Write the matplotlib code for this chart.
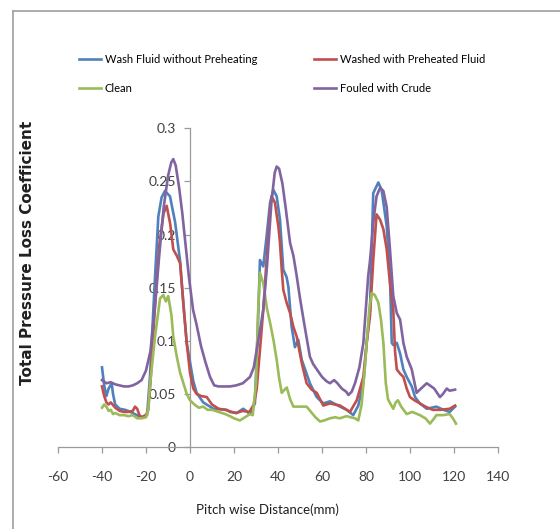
import matplotlib
matplotlib.use("Agg")
import matplotlib.pyplot as plt
from matplotlib.lines import Line2D

plt.rcParams['font.family'] = ['Lato', 'DejaVu Sans']

# ---- data ----
blue_x = [-40, -39, -38, -37, -35.6, -35, -34, -32, -29.5, -27, -24.2, -22, -20, -19.5, -18.2, -15.9, -14.4,
          -12.9, -11.4, -9.1, -6.8, -4.5, -3, -1.5, 1.5, 3, 6, 10.6, 16.7, 18.2, 21.2, 24.2, 27.3, 29.5, 31.1,
          31.8, 33.3, 34.8, 36.4, 37.9, 39.4, 40.9, 42.4, 43.9, 44.7, 46.2, 47.7, 49.2, 50.8, 54.5, 57.6, 60.6,
          63.6, 68.2, 71.2, 74.2, 76.5, 78.8, 80.3, 81.8, 83.3, 85.6, 87.1, 89.4, 90.9, 91.7, 92.4, 94, 95.5,
          97, 98.5, 100.8, 102.3, 104.5, 107.6, 112, 115.2, 118, 120.5]
blue_y = [0.075, 0.058, 0.048, 0.055, 0.060, 0.050, 0.040, 0.036, 0.035, 0.033, 0.030, 0.028, 0.030, 0.030,
          0.066, 0.160, 0.217, 0.235, 0.241, 0.236, 0.212, 0.175, 0.134, 0.098, 0.062, 0.051, 0.042, 0.036,
          0.035, 0.033, 0.032, 0.036, 0.031, 0.041, 0.129, 0.176, 0.170, 0.198, 0.230, 0.242, 0.236, 0.214,
          0.167, 0.160, 0.151, 0.113, 0.094, 0.101, 0.082, 0.060, 0.047, 0.041, 0.043, 0.038, 0.035, 0.030,
          0.039, 0.060, 0.098, 0.129, 0.239, 0.249, 0.242, 0.208, 0.161, 0.098, 0.096, 0.098, 0.088, 0.073,
          0.066, 0.057, 0.047, 0.041, 0.036, 0.038, 0.035, 0.033, 0.038]

red_x = [-40, -39, -38, -37, -36, -34, -32, -30, -28, -26, -25, -24, -23, -22, -20, -19, -18, -16, -14, -12,
         -10.6, -9, -7.6, -6, -4.5, -3, -1.5, 0, 1.5, 3, 5, 7.6, 10, 13, 16, 19, 21, 24, 27, 29, 30.3, 33.3,
         34.8, 36.4, 37.1, 38.6, 40.2, 40.9, 41.7, 42.4, 43.9, 45.5, 47, 48.5, 50.8, 53, 55.3, 57.6, 60.6,
         63.6, 68.2, 70.5, 72.7, 75.8, 78.8, 80.3, 81.8, 83.3, 84.8, 86.4, 87.9, 89.4, 90.9, 92.4, 93.2, 94,
         95.5, 97, 98.5, 100, 102, 104.5, 107, 110.3, 114, 118, 120.5]
red_y = [0.057, 0.048, 0.042, 0.040, 0.042, 0.037, 0.034, 0.033, 0.033, 0.034, 0.038, 0.036, 0.030, 0.028,
         0.030, 0.035, 0.060, 0.130, 0.190, 0.220, 0.227, 0.210, 0.186, 0.180, 0.173, 0.135, 0.098, 0.070,
         0.055, 0.050, 0.048, 0.047, 0.040, 0.036, 0.035, 0.033, 0.032, 0.034, 0.033, 0.040, 0.054, 0.129,
         0.176, 0.223, 0.236, 0.230, 0.207, 0.192, 0.167, 0.148, 0.136, 0.126, 0.113, 0.104, 0.079, 0.060,
         0.054, 0.051, 0.039, 0.041, 0.039, 0.036, 0.033, 0.044, 0.066, 0.098, 0.123, 0.176, 0.219, 0.214,
         0.205, 0.186, 0.154, 0.129, 0.090, 0.073, 0.069, 0.066, 0.055, 0.047, 0.044, 0.041, 0.038, 0.035,
         0.035, 0.036, 0.039]

green_x = [-40, -39, -38, -37, -36, -35, -34, -32, -30, -28, -26, -24, -22, -20, -19, -18.2, -15.9, -13.6,
           -12.1, -11, -9.9, -8.5, -7.6, -6, -4.5, -3, -1.5, 0, 2, 4, 6, 8, 10, 13, 16, 18.2, 20, 22.7, 25,
           27.3, 28.5, 30, 31, 31.8, 33.3, 35, 36.4, 38, 39.4, 40.5, 41.7, 43, 44, 45.5, 47, 50, 53, 55, 57,
           59.1, 61, 63.6, 66, 68, 71.2, 73, 75, 76.5, 78, 79.5, 80.3, 81.5, 82.6, 84, 85.6, 86.8, 87.9, 89,
           90, 91, 92.4, 93.5, 94.5, 96, 98.5, 101, 104.5, 107, 109.1, 111, 112, 115, 118, 119.5, 120.9]
green_y = [0.037, 0.040, 0.038, 0.034, 0.035, 0.031, 0.032, 0.030, 0.030, 0.029, 0.030, 0.027, 0.027, 0.028,
           0.035, 0.058, 0.104, 0.140, 0.143, 0.137, 0.142, 0.125, 0.104, 0.085, 0.070, 0.060, 0.050, 0.044,
           0.040, 0.037, 0.038, 0.035, 0.035, 0.033, 0.031, 0.029, 0.027, 0.025, 0.028, 0.031, 0.030, 0.060,
           0.130, 0.164, 0.154, 0.130, 0.117, 0.100, 0.082, 0.065, 0.051, 0.054, 0.056, 0.045, 0.038, 0.038,
           0.038, 0.033, 0.028, 0.024, 0.025, 0.027, 0.028, 0.027, 0.029, 0.028, 0.027, 0.025, 0.040, 0.075,
           0.098, 0.130, 0.145, 0.143, 0.136, 0.120, 0.098, 0.060, 0.045, 0.041, 0.036, 0.042, 0.044, 0.038,
           0.031, 0.033, 0.030, 0.027, 0.022, 0.027, 0.030, 0.030, 0.031, 0.027, 0.022]

purple_x = [-40, -38, -36, -34, -32, -30, -28, -26, -24, -22, -20, -18, -16, -14, -12, -10, -8.5, -7.6, -6.5,
            -5, -3.5, -2, -0.5, 1.4, 3, 5, 7, 9.1, 11, 13, 16.7, 18.2, 21, 24, 27.3, 29, 31, 33.3, 35, 37,
            38.5, 39.4, 40.5, 42, 43.5, 45, 45.5, 47, 48.5, 50, 52, 54.5, 56, 58, 60, 62, 63.6, 65.5, 67, 69,
            71, 72, 73.5, 75, 75.8, 77, 78.8, 81, 81.8, 83.5, 84.8, 86.4, 87.9, 89.4, 90.9, 92.4, 94, 95.5, 97,
            98.5, 100.8, 103, 105, 107.6, 109, 111, 113.6, 115, 116.7, 118, 120.5]
purple_y = [0.063, 0.060, 0.061, 0.059, 0.058, 0.057, 0.057, 0.058, 0.060, 0.063, 0.072, 0.090, 0.130, 0.180,
            0.225, 0.255, 0.268, 0.271, 0.265, 0.245, 0.220, 0.190, 0.160, 0.129, 0.115, 0.095, 0.080, 0.066,
            0.058, 0.057, 0.057, 0.057, 0.058, 0.060, 0.066, 0.075, 0.100, 0.129, 0.170, 0.230, 0.258, 0.264,
            0.262, 0.248, 0.225, 0.200, 0.192, 0.180, 0.161, 0.140, 0.115, 0.085, 0.078, 0.072, 0.066, 0.062,
            0.060, 0.063, 0.060, 0.055, 0.052, 0.049, 0.052, 0.060, 0.066, 0.075, 0.098, 0.161, 0.175, 0.215,
            0.236, 0.244, 0.241, 0.226, 0.186, 0.142, 0.126, 0.120, 0.098, 0.085, 0.073, 0.051, 0.055, 0.060,
            0.058, 0.055, 0.047, 0.050, 0.055, 0.053, 0.054]

labels = ["Wash Fluid without Preheating", "Washed with Preheated Fluid", "Clean", "Fouled with Crude"]
colors = ["#4F81BD", "#C0504D", "#9BBB59", "#8064A2"]
x_ticks = [-60, -40, -20, 0, 20, 40, 60, 80, 100, 120, 140]
y_ticks = [0, 0.05, 0.1, 0.15, 0.2, 0.25, 0.3]
y_tick_labels = ["0", "0.05", "0.1", "0.15", "0.2", "0.25", "0.3"]

W, H = 560, 529
fig = plt.figure(figsize=(W / 100, H / 100), dpi=100)
fig.patch.set_facecolor("white")

# outer frame (top and left border)
fig.add_artist(Line2D([13 / W, 13 / W], [0, 1 - 11 / H], transform=fig.transFigure, color="#a6a6a6", lw=1.3))
fig.add_artist(Line2D([13 / W, 1], [1 - 11 / H, 1 - 11 / H], transform=fig.transFigure, color="#a6a6a6", lw=1.3))

ax = fig.add_axes([58 / W, 1 - 447 / H, 440 / W, (447 - 128.3) / H])
ax.set_xlim(-60, 140)
ax.set_ylim(0, 0.3)

series = [(blue_x, blue_y), (red_x, red_y), (green_x, green_y), (purple_x, purple_y)]
handles = []
for (xs, ys), c, lab in zip(series, colors, labels):
    h, = ax.plot(xs, ys, color=c, lw=1.9, label=lab, solid_joinstyle="round", zorder=3)
    handles.append(h)

for s in ["top", "right"]:
    ax.spines[s].set_visible(False)
ax.spines["left"].set_position(("data", 0))
ax.spines["left"].set_color("#9a9a9a")
ax.spines["bottom"].set_color("#9a9a9a")
ax.spines["left"].set_linewidth(0.9)
ax.spines["bottom"].set_linewidth(0.9)

ax.set_xticks(x_ticks)
ax.set_xticklabels([str(v) for v in x_ticks])
ax.set_yticks(y_ticks)
ax.set_yticklabels(y_tick_labels)
ax.tick_params(axis="x", direction="out", length=4, width=0.9, color="#9a9a9a", pad=13,
               labelsize=10, labelcolor="#404040")
ax.tick_params(axis="y", direction="out", length=4, width=0.9, color="#9a9a9a", pad=6,
               labelsize=10, labelcolor="#404040")
for t in ax.get_yticklabels() + ax.get_xticklabels():
    t.set_zorder(1)

fig.text(267 / W, 1 - 510 / H, "Pitch wise Distance(mm)", ha="center", va="center", fontsize=9.5, color="#202020")
fig.text(28 / W, 1 - 253 / H, "Total Pressure Loss Coefficient", ha="center", va="center", rotation=90,
         fontsize=11, fontweight="bold", color="#202020", family=["DejaVu Sans"])

order = [0, 2, 1, 3]
fig.legend([handles[i] for i in order], [labels[i] for i in order], loc="upper left",
           bbox_to_anchor=(73 / W, 1 - 48 / H), ncol=2, frameon=False, fontsize=8,
           borderpad=0, handlelength=2.05, handletextpad=0.3, columnspacing=5.1, labelspacing=1.69)

fig.savefig("out.png", dpi=100)
